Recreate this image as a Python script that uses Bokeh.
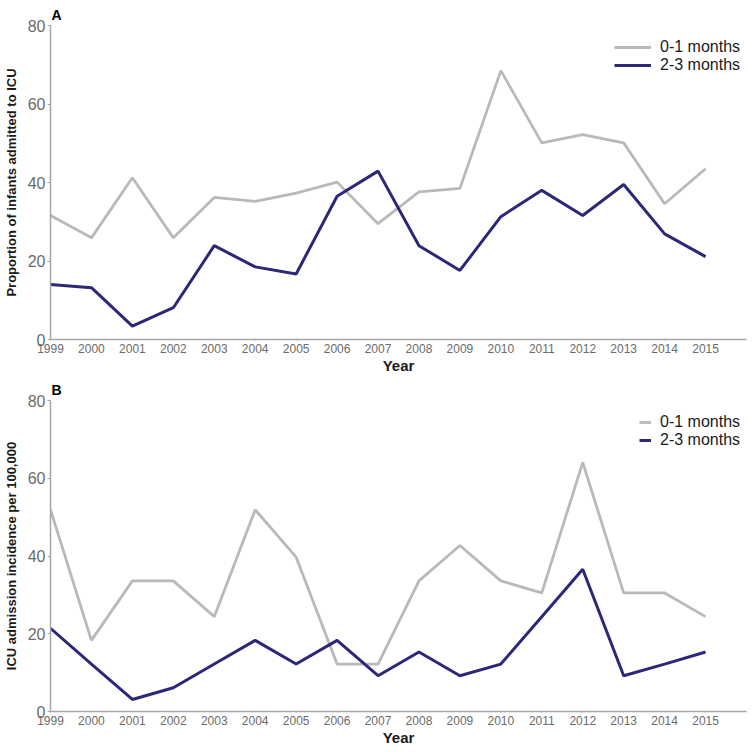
from bokeh.plotting import figure
from bokeh.models import ColumnDataSource, Legend, LegendItem, FixedTicker
from bokeh.layouts import column
from bokeh.embed import file_html
from bokeh.resources import INLINE

years = list(range(1999, 2016))

# Panel A: proportion of infants admitted to ICU (%)
a_0_1 = [31.6, 25.9, 41.2, 25.9, 36.2, 35.2, 37.3, 40.1, 29.5, 37.6, 38.5, 68.5, 50.1, 52.2, 50.1, 34.6, 43.5]
a_2_3 = [14.0, 13.2, 3.4, 8.1, 23.9, 18.5, 16.7, 36.5, 42.9, 23.9, 17.6, 31.3, 38.0, 31.6, 39.5, 26.9, 21.1]

# Panel B: ICU admission incidence per 100,000
b_0_1 = [51.9, 18.3, 33.6, 33.6, 24.4, 51.9, 39.7, 12.2, 12.2, 33.6, 42.7, 33.6, 30.5, 64.1, 30.5, 30.5, 24.4]
b_2_3 = [21.4, 12.2, 3.1, 6.1, 12.2, 18.3, 12.2, 18.3, 9.2, 15.3, 9.2, 12.2, 24.4, 36.6, 9.2, 12.2, 15.3]

series_names = ["0-1 months", "2-3 months"]
y_ticks = [0, 20, 40, 60, 80]

GRAY = "#b9b9b9"
NAVY = "#2b2878"
FONT = "Liberation Sans"


def make_panel(letter, ylabel, v01, v23, height, top_border, bottom_border, glyph_w, leg_loc):
    src = ColumnDataSource(dict(year=years, v01=v01, v23=v23))
    p = figure(width=750, height=height, output_backend="svg", toolbar_location=None,
               x_range=(1999, 2016), y_range=(0, 80),
               min_border_left=43, min_border_right=4,
               min_border_top=top_border, min_border_bottom=bottom_border)
    p.outline_line_color = None
    p.grid.grid_line_color = None
    p.background_fill_color = "white"
    p.border_fill_color = "white"

    p.title.text = letter
    p.title.text_font = FONT
    p.title.text_font_style = "bold"
    p.title.text_font_size = "14px"
    p.title.text_color = "black"
    p.title.align = "left"
    p.title.offset = 1
    p.title.standoff = 6

    r1 = p.line("year", "v01", source=src, line_color=GRAY, line_width=2.8)
    r2 = p.line("year", "v23", source=src, line_color=NAVY, line_width=3)

    # axes
    p.xaxis.ticker = FixedTicker(ticks=years)
    p.yaxis.ticker = FixedTicker(ticks=y_ticks)
    for ax in (p.xaxis[0], p.yaxis[0]):
        ax.axis_line_color = "#a6a6a6"
        ax.axis_line_width = 1.5
        ax.major_tick_line_color = "#a6a6a6"
        ax.minor_tick_line_color = None
        ax.major_tick_in = 0
        ax.axis_label_text_font = FONT
        ax.axis_label_text_font_style = "bold"
        ax.axis_label_text_color = "#1a1a1a"
        ax.major_label_text_font = FONT
        ax.major_label_text_color = "#6b6b6b"
    p.xaxis.major_tick_out = 1
    p.yaxis.major_tick_out = 3
    p.xaxis.major_label_text_font_size = "12px"
    p.yaxis.major_label_text_font_size = "16px"
    p.xaxis.major_label_standoff = 3
    p.yaxis.major_label_standoff = 2
    p.xaxis.axis_label = "Year"
    p.xaxis.axis_label_text_font_size = "15px"
    p.xaxis.axis_label_standoff = 1
    p.yaxis.axis_label = ylabel
    p.yaxis.axis_label_text_font_size = "13px"
    p.yaxis.axis_label_standoff = 6

    legend = Legend(items=[LegendItem(label=series_names[0], renderers=[r1]),
                           LegendItem(label=series_names[1], renderers=[r2])],
                    location=leg_loc)
    legend.background_fill_alpha = 0
    legend.border_line_alpha = 0
    legend.label_text_font = FONT
    legend.label_text_font_size = "16px"
    legend.label_text_color = "#1a1a1a"
    legend.glyph_width = glyph_w
    legend.glyph_height = 16
    legend.label_height = 16
    legend.spacing = -2
    legend.padding = 0
    legend.margin = 0
    legend.label_standoff = 9
    p.add_layout(legend)
    return p


pA = make_panel("A", "Proportion of infants admitted to ICU", a_0_1, a_2_3,
                376, 25, 37, 37, (564, 265))
pB = make_panel("B", "ICU admission incidence per 100,000", b_0_1, b_2_3,
                372, 23, 35, 12, (589, 262))

layout = column(pA, pB, spacing=0)
open("out.html", "w").write(file_html(layout, INLINE))
